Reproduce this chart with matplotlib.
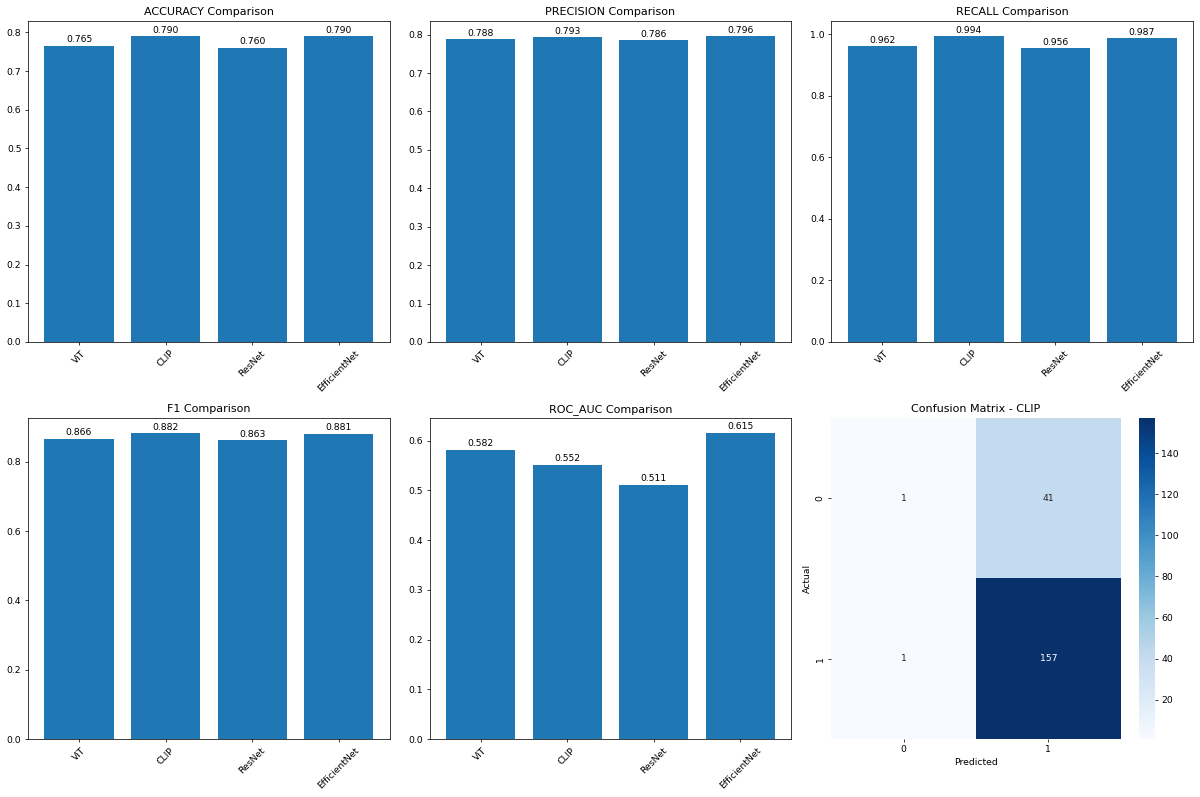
import matplotlib
matplotlib.use('Agg')
import matplotlib.pyplot as plt
import numpy as np
import seaborn as sns

# model results
models = ['ViT', 'CLIP', 'ResNet', 'EfficientNet']
accuracy = [0.765, 0.790, 0.760, 0.790]
precision = [0.788, 0.793, 0.786, 0.796]
recall = [0.962, 0.994, 0.956, 0.987]
f1 = [0.866, 0.882, 0.863, 0.881]
roc_auc = [0.582, 0.552, 0.511, 0.615]
metric_names = ['accuracy', 'precision', 'recall', 'f1', 'roc_auc']
metric_values = [accuracy, precision, recall, f1, roc_auc]

cm_clip = np.array([[1, 41],
                    [1, 157]])

fig, axes = plt.subplots(2, 3, figsize=(18, 11.955), dpi=66.67)
axes = axes.flatten()

for i, (name, vals) in enumerate(zip(metric_names, metric_values)):
    ax = axes[i]
    bars = ax.bar(models, vals)
    ax.set_title(f'{name.upper()} Comparison')
    ax.tick_params(axis='x', rotation=45)
    for bar, v in zip(bars, vals):
        ax.text(bar.get_x() + bar.get_width() / 2, bar.get_height() + 0.004,
                f'{v:.3f}', ha='center', va='bottom')

#confusion matrix for the best model
ax = axes[5]
sns.heatmap(cm_clip, annot=True, fmt='d', cmap='Blues', ax=ax)
ax.set_title('Confusion Matrix - CLIP')
ax.set_xlabel('Predicted')
ax.set_ylabel('Actual')

plt.subplots_adjust(left=0.0233, right=0.9942, top=0.9737, bottom=0.0728,
                    wspace=0.11, hspace=0.237)
plt.savefig('out.png', dpi=66.67)
